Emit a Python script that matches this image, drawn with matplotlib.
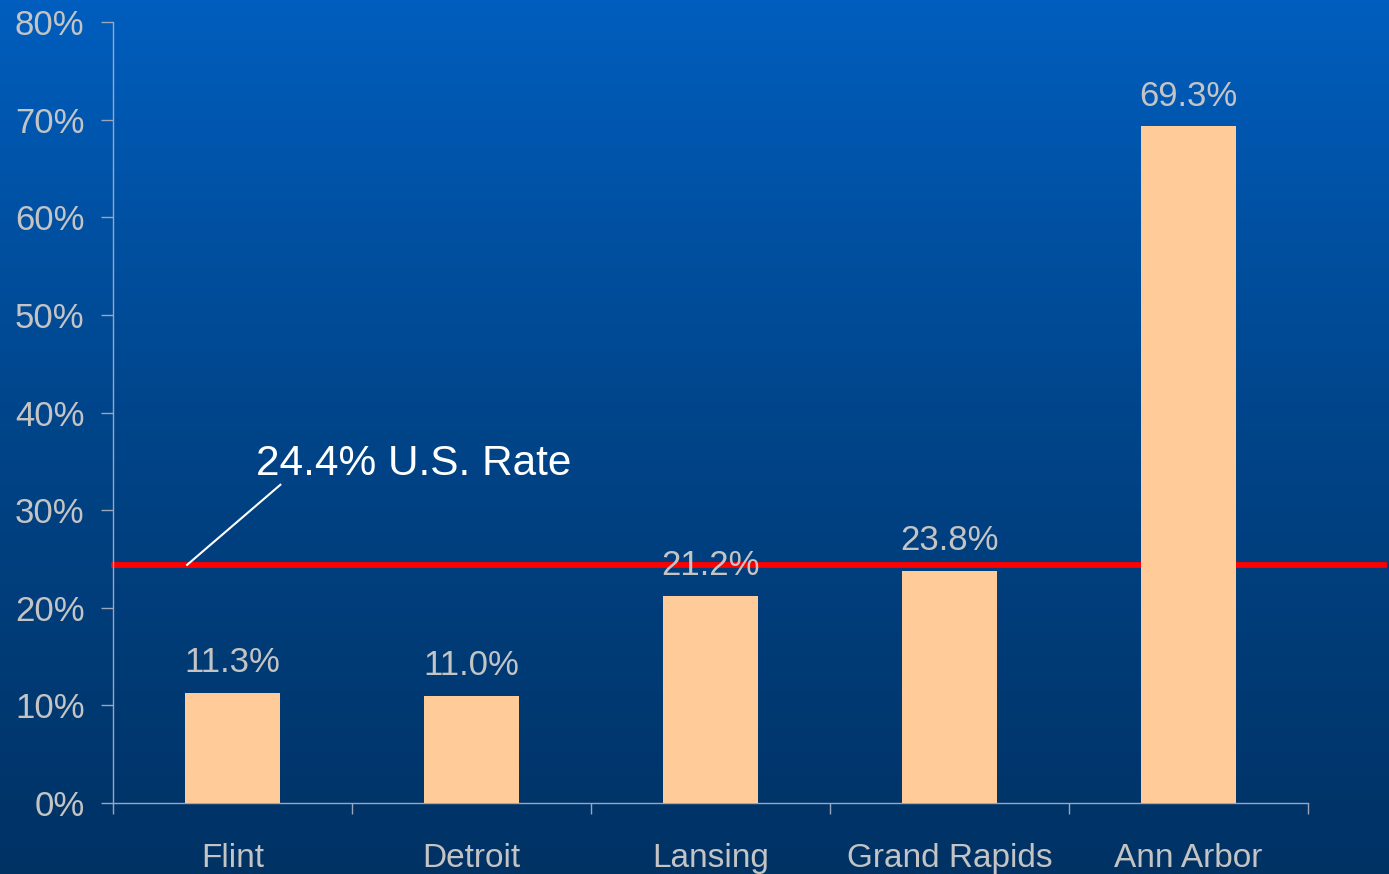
import numpy as np
import matplotlib.pyplot as plt
from matplotlib.colors import LinearSegmentedColormap
import matplotlib.transforms as mtransforms

plt.rcParams['font.family'] = ['Liberation Sans', 'DejaVu Sans']

cities = ['Flint', 'Detroit', 'Lansing', 'Grand Rapids', 'Ann Arbor']
rates = [11.3, 11.0, 21.2, 23.8, 69.3]
us_rate = 24.4
y_ticks = [0, 10, 20, 30, 40, 50, 60, 70, 80]

grey = '#C4C4C4'
axis_col = '#9AA6BC'

fig = plt.figure(figsize=(13.89, 8.74), dpi=100)

# blue vertical gradient behind everything
bg = fig.add_axes([0, 0, 1, 1], zorder=-10)
grad = LinearSegmentedColormap.from_list('bg', ['#003264', '#004488', '#005EBE'])
bg.imshow(np.linspace(0, 1, 256).reshape(-1, 1), aspect='auto', cmap=grad,
          origin='lower', extent=[0, 1, 0, 1])
bg.set_axis_off()

ax = fig.add_axes([0.0814, 0.0812, 0.8603, 0.8936])
ax.patch.set_alpha(0)

x = np.arange(len(cities))
ax.bar(x, rates, width=0.4, color='#FFCC99', zorder=3)

for xi, v in zip(x, rates):
    ax.annotate(f'{v:.1f}%', (xi, v), xytext=(0, 10), textcoords='offset points',
                ha='center', va='bottom', fontsize=25, color=grey, zorder=4)

# national rate line runs past the right end of the axis
trans = mtransforms.blended_transform_factory(ax.transAxes, ax.transData)
ax.plot([0.001, 1.064], [us_rate, us_rate], color='#FF0000', lw=4.2,
        transform=trans, clip_on=False, zorder=2)
ax.text(0.1, 33.6, f'{us_rate}% U.S. Rate', fontsize=30.5, color='white',
        ha='left', va='baseline', zorder=5)
ax.plot([-0.19, 0.2], [us_rate, 32.6], color='white', lw=1.5, zorder=5)

ax.set_xlim(-0.5, 4.5)
ax.set_ylim(0, 80)
ax.set_yticks(y_ticks)
ax.set_yticklabels([f'{t}%' for t in y_ticks])
ax.set_xticks(np.arange(-0.5, 5, 1))
ax.set_xticklabels([])
ax.set_xticks(x, minor=True)
ax.set_xticklabels(cities, minor=True)

ax.tick_params(axis='y', direction='out', length=8.5, width=1, color=axis_col,
               labelsize=25, labelcolor=grey, pad=12)
ax.tick_params(axis='x', which='major', direction='out', length=8, width=1,
               color=axis_col)
ax.tick_params(axis='x', which='minor', length=0, labelsize=24, labelcolor=grey,
               pad=29)

for side in ['top', 'right']:
    ax.spines[side].set_visible(False)
for side in ['left', 'bottom']:
    ax.spines[side].set_color(axis_col)
    ax.spines[side].set_linewidth(1)

fig.savefig('out.png', dpi=100)
